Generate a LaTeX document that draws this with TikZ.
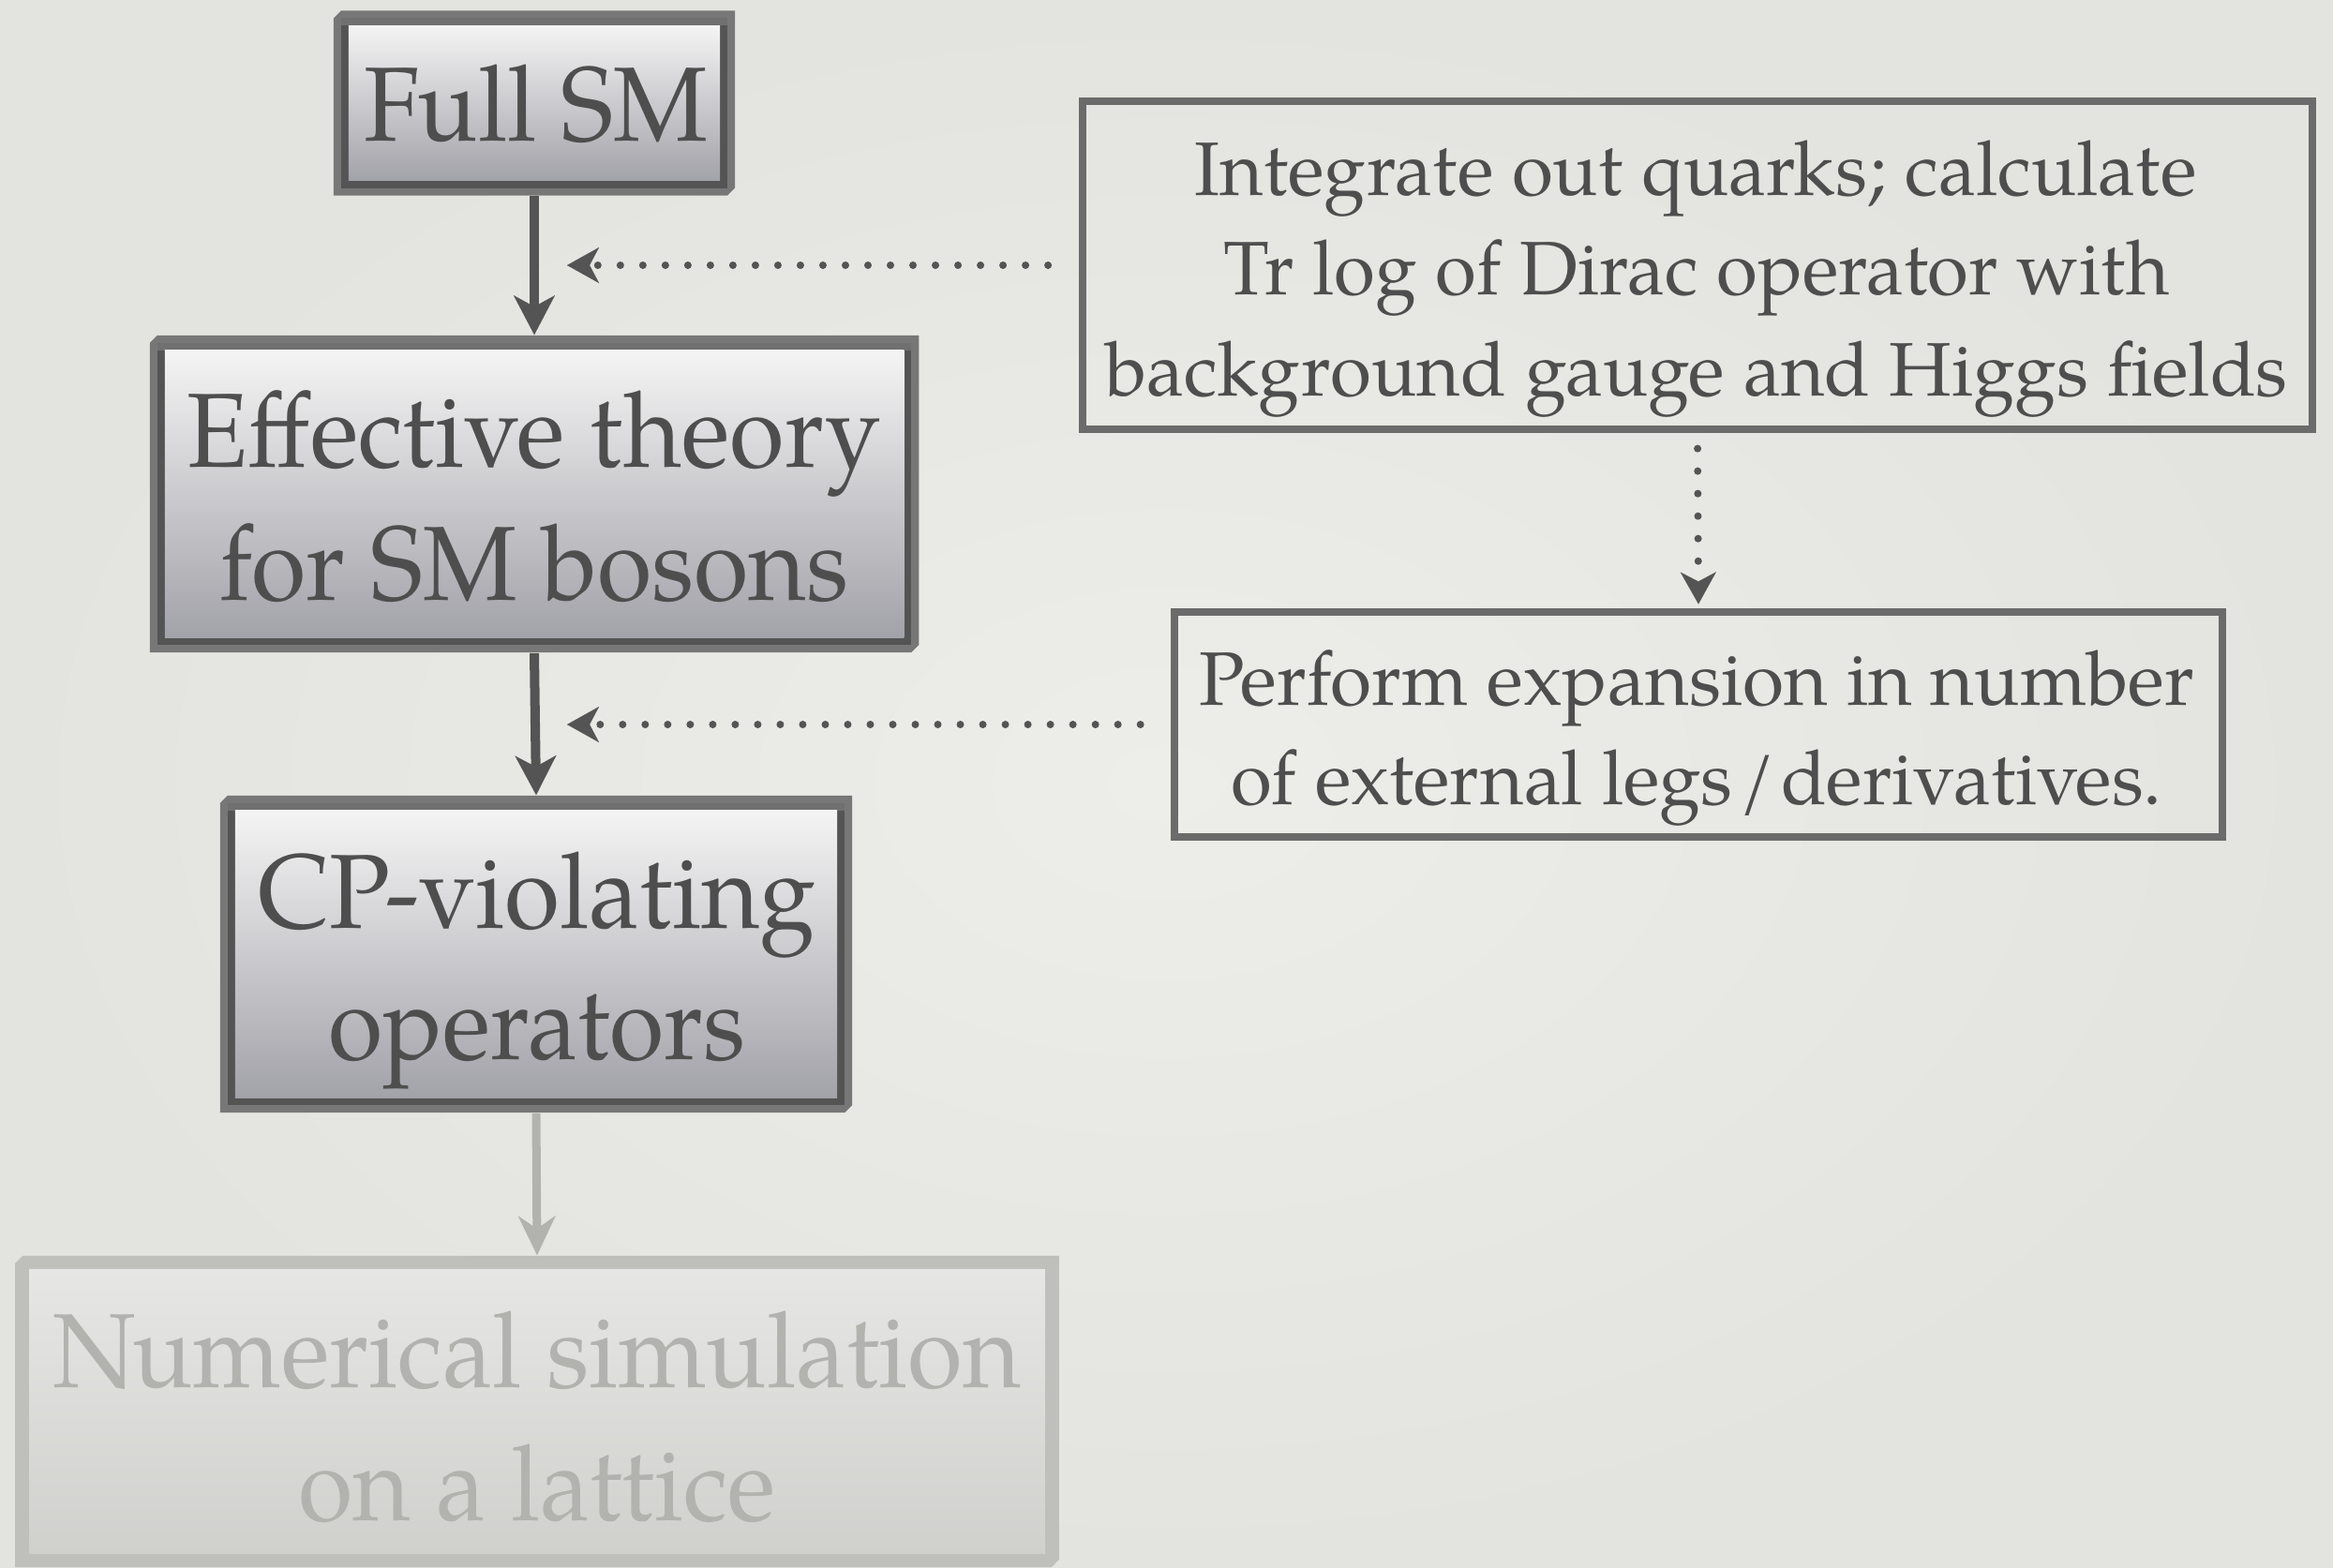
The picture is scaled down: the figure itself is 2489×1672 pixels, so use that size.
\documentclass[tikz,border=0pt]{standalone}
\usepackage{fontspec}
\setmainfont{TeX Gyre Pagella}
\usepackage{graphicx}
\usetikzlibrary{arrows.meta,calc}

\definecolor{paper}{HTML}{EDEDE9}
\definecolor{paperedge}{HTML}{E3E3DF}
\definecolor{ink}{HTML}{4E4E4E}
\definecolor{frameouter}{HTML}{777777}
\definecolor{frametop}{HTML}{707070}
\definecolor{frameinner}{HTML}{545454}
\definecolor{shadetop}{HTML}{F4F4F4}
\definecolor{shadebot}{HTML}{A2A2A9}
\definecolor{ghostframe}{HTML}{BFBFBB}
\definecolor{ghosttop}{HTML}{E6E6E4}
\definecolor{ghostbot}{HTML}{D0D0CD}
\definecolor{ghostink}{HTML}{B2B2AE}
\definecolor{noteframe}{HTML}{6B6B6B}

% set one line of text squeezed horizontally to a given width
\newsavebox\linebox
\newcommand\fitline[2]{%
  \sbox\linebox{#2}%
  \pgfmathsetmacro\linescale{#1/\the\wd\linebox}%
  \scalebox{\linescale}[1]{\usebox\linebox}}

% outer frame with cut corners at top left and bottom right
\newcommand\cutframe[1]{%
  \fill[#1] ($(path picture bounding box.north west)+(8,0)$)
    -- (path picture bounding box.north east)
    -- ($(path picture bounding box.south east)+(0,-8)$)
    -- ($(path picture bounding box.south east)+(-8,0)$)
    -- (path picture bounding box.south west)
    -- ($(path picture bounding box.north west)+(0,8)$) -- cycle;}

\tikzset{
  bevelbox/.style={rectangle, inner sep=0pt,
    path picture={
      \cutframe{frameouter}
      \fill[frameinner] ($(path picture bounding box.north west)+(8,8)$)
        rectangle ($(path picture bounding box.south east)+(-8,-8)$);
      \fill[frametop] ($(path picture bounding box.north west)+(8,8)$)
        rectangle ($(path picture bounding box.north east)+(-8,16)$);
      \shade[top color=shadetop, bottom color=shadebot]
        ($(path picture bounding box.north west)+(16,16)$)
        rectangle ($(path picture bounding box.south east)+(-16,-16)$);
    }},
  ghostbox/.style={rectangle, inner sep=0pt,
    path picture={
      \cutframe{ghostframe}
      \shade[top color=ghosttop, bottom color=ghostbot]
        ($(path picture bounding box.north west)+(15,15)$)
        rectangle ($(path picture bounding box.south east)+(-15,-15)$);
    }},
  notebox/.style={rectangle, inner sep=0pt, draw=noteframe, line width=0.08cm},
  boxtext/.style={anchor=base, inner sep=0pt, text=ink,
    font=\fontsize{32}{36}\selectfont},
  ghosttext/.style={boxtext, text=ghostink},
  notetext/.style={anchor=base, inner sep=0pt, text=ink,
    font=\fontsize{23}{27}\selectfont},
  flow/.style={draw=frameinner, line width=0.1cm,
    -{Stealth[length=0.42cm, width=0.44cm, inset=0.12cm, line width=0.01pt]}},
  ghostflow/.style={draw=ghostink, line width=0.09cm,
    -{Stealth[length=0.42cm, width=0.4cm, inset=0.14cm, line width=0.01pt]}},
  hint/.style={draw=frameinner, line width=0.08cm, line cap=round,
    dash pattern=on 0pt off 0.24cm,
    -{Stealth[length=0.34cm, width=0.38cm, inset=0.1cm, line width=0.01pt]}},
}

\begin{document}
\begin{tikzpicture}[x=0.01cm, y=-0.01cm]
  \useasboundingbox (0,0) rectangle (2489,1672);
  \shade[inner color=paper, outer color=paperedge] (0,0) rectangle (2489,1672);

  % main chain of boxes
  \node[bevelbox, minimum width=4.28cm, minimum height=1.97cm] (fullsm) at (570,110) {};
  \node[bevelbox, minimum width=8.20cm, minimum height=3.38cm] (eff) at (570,527) {};
  \node[bevelbox, minimum width=6.74cm, minimum height=3.38cm] (cpv) at (572,1018) {};
  \node[ghostbox, minimum width=11.13cm, minimum height=3.32cm] (numsim) at (573,1506) {};

  % side notes
  \node[notebox, minimum width=13.11cm, minimum height=3.49cm] (trlog) at (1811,283) {};
  \node[notebox, minimum width=11.18cm, minimum height=2.39cm] (expand) at (1812,773) {};

  % box texts
  \node[boxtext] (fullsmA) at (572,150) {\fitline{3.67cm}{Full SM}};
  \node[boxtext] (effA) at (570,498) {\fitline{7.40cm}{Effective theory}};
  \node[boxtext] (effB) at (570,640) {\fitline{6.70cm}{for SM bosons}};
  \node[boxtext] (cpvA) at (573,990) {\fitline{5.95cm}{CP-violating}};
  \node[boxtext] (cpvB) at (573,1130) {\fitline{4.44cm}{operators}};
  \node[ghosttext] (numsimA) at (573,1480) {\fitline{10.32cm}{Numerical simulation}};
  \node[ghosttext] (numsimB) at (573,1622) {\fitline{5.08cm}{on a lattice}};

  \node[notetext] (trlogA) at (1809,208) {\fitline{10.68cm}{Integrate out quarks; calculate}};
  \node[notetext] (trlogB) at (1810,314) {\fitline{10.09cm}{Tr log of Dirac operator with}};
  \node[notetext] (trlogC) at (1810,422) {\fitline{12.61cm}{background gauge and Higgs fields}};
  \node[notetext] (expandA) at (1810,752) {\fitline{10.61cm}{Perform expansion in number}};
  \node[notetext] (expandB) at (1810,858) {\fitline{9.93cm}{of external legs\kern0.08em/\kern0.08em derivatives.}};

  % connectors
  \draw[flow] (fullsm.south) -- (eff.north);
  \draw[flow] (eff.south) -- (cpv.north);
  \draw[ghostflow] (cpv.south) -- (numsim.north);

  \draw[hint, shorten <=0.33cm, shorten >=0.35cm] (trlog.west) -- (trlog.west -| fullsm.south);
  \draw[hint, shorten <=0.32cm, shorten >=0.35cm] (expand.west) -- (expand.west -| eff.south);
  \draw[hint, shorten <=0.17cm, shorten >=0.05cm] (trlog.south) -- (expand.north);
\end{tikzpicture}
\end{document}
